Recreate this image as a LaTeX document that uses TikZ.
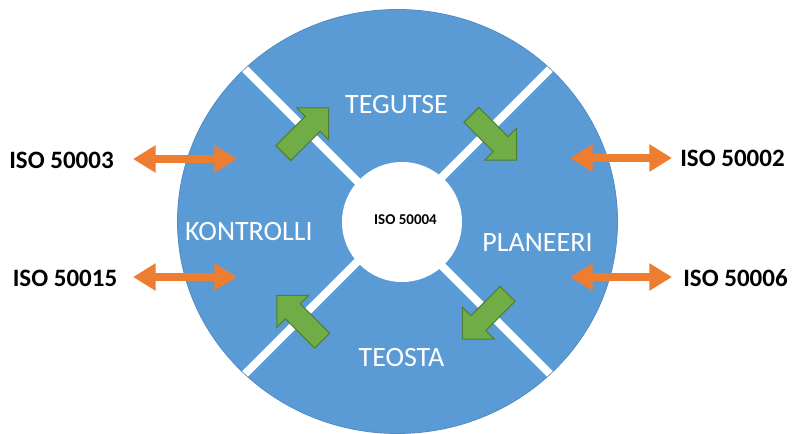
\documentclass[tikz,border=0pt]{standalone}
\usepackage{fontspec}
\setmainfont{Carlito}
\usetikzlibrary{arrows.meta,shapes.geometric}
\definecolor{discblue}{HTML}{5B9BD5}
\definecolor{discedge}{HTML}{4F8BC4}
\definecolor{arrgreen}{HTML}{70AD47}
\definecolor{arredge}{HTML}{507E32}
\definecolor{arrorange}{HTML}{ED7D31}
\tikzset{
  phase/.style={text=white, font=\fontsize{21}{25}\selectfont, inner sep=0pt},
  isolabel/.style={text=black, font=\bfseries\fontsize{18.75}{22}\selectfont, inner sep=0pt},
  isocore/.style={text=black, font=\bfseries\fontsize{11.25}{13}\selectfont, inner sep=0pt},
  divider/.style={draw=white, line width=6pt},
  link/.style={draw=arrorange, line width=5.5pt, {Triangle[length=17pt,width=19.5pt]}-{Triangle[length=17pt,width=19.5pt]}},
  garrow/.pic={\draw[fill=arrgreen, draw=arredge, line width=0.8pt, line join=miter] (-32,-10.5) -- (9.5,-10.5) -- (9.5,-22.5) -- (32,0) -- (9.5,22.5) -- (9.5,10.5) -- (-32,10.5) -- cycle;}
}
\begin{document}
\begin{tikzpicture}[x=0.75pt,y=-0.75pt]
\useasboundingbox (0,0) rectangle (792,434);
% main disc
\node[ellipse, fill=discblue, draw=discedge, line width=0.6pt, minimum width=330pt, minimum height=318pt, inner sep=0pt] (disc) at (397.5,221.5) {};
\begin{scope}
  \clip (397.5,221.5) ellipse [x radius=219.6, y radius=211.6];
  \draw[divider] (disc.135) -- (disc.-45);
  \draw[divider] (disc.45) -- (disc.-135);
\end{scope}
% centre
\node[circle, fill=white, minimum size=90pt, inner sep=0pt] (core) at (402,222) {};
\node[isocore] (iso4) at (405.5,220) {ISO 50004};
% phases
\node[phase] (act) at (396.5,104.5) {TEGUTSE};
\node[phase] (check) at (249,232) {KONTROLLI};
\node[phase] (plan) at (537.5,243) {PLANEERI};
\node[phase] (exec) at (401.5,358) {TEOSTA};
% green cycle arrows
\pic[rotate=45] (g1) at (306,130.5) {garrow};
\pic[rotate=-45] (g2) at (494,137.5) {garrow};
\pic[rotate=-135] (g3) at (485,316.5) {garrow};
\pic[rotate=135] (g4) at (299.5,318) {garrow};
% ISO standards
\node[isolabel] (i3) at (61.5,160) {ISO 50003};
\node[isolabel] (i15) at (65,278) {ISO 50015};
\node[isolabel] (i2) at (732.5,158) {ISO 50002};
\node[isolabel] (i6) at (735.5,278) {ISO 50006};
% orange links
\coordinate (l1a) at (133,159);
\coordinate (l1b) at (237,159);
\coordinate (l2a) at (133,277);
\coordinate (l2b) at (237,277);
\coordinate (r1a) at (570,158);
\coordinate (r1b) at (672,158);
\coordinate (r2a) at (570,277);
\coordinate (r2b) at (672,277);
\draw[link] (l1a) -- (l1b);
\draw[link] (l2a) -- (l2b);
\draw[link] (r1a) -- (r1b);
\draw[link] (r2a) -- (r2b);
\end{tikzpicture}
\end{document}
